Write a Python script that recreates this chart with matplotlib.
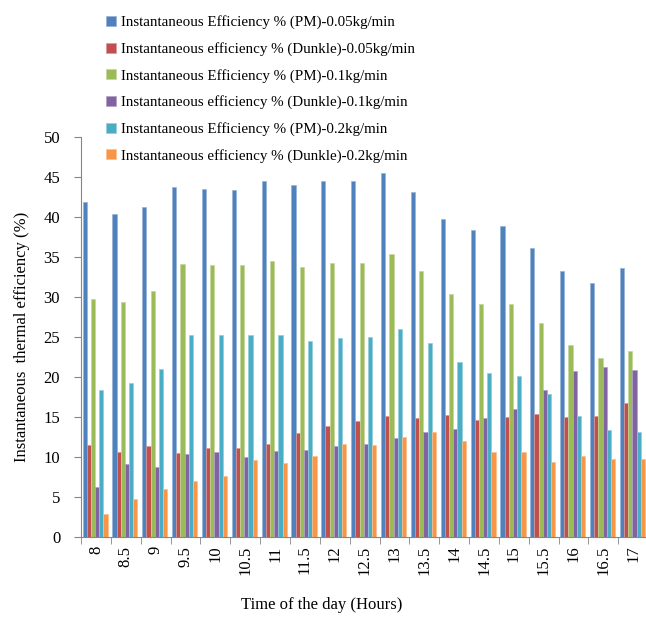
import matplotlib
matplotlib.use("Agg")
import matplotlib.pyplot as plt
import numpy as np

plt.rcParams['font.family'] = ['Liberation Serif', 'DejaVu Serif']

hours = ["8", "8.5", "9", "9.5", "10", "10.5", "11", "11.5", "12", "12.5",
         "13", "13.5", "14", "14.5", "15", "15.5", "16", "16.5", "17"]

pm_005 = [41.8, 40.4, 41.2, 43.7, 43.5, 43.4, 44.5, 44.0, 44.5, 44.5,
          45.5, 43.1, 39.7, 38.3, 38.8, 36.1, 33.3, 31.7, 33.6]
dk_005 = [11.5, 10.6, 11.4, 10.5, 11.1, 11.2, 11.65, 13.0, 13.85, 14.5,
          15.1, 14.9, 15.3, 14.7, 15.0, 15.4, 15.0, 15.2, 16.8]
pm_01 = [29.7, 29.4, 30.7, 34.1, 34.0, 34.0, 34.5, 33.8, 34.3, 34.3,
         35.3, 33.2, 30.4, 29.1, 29.1, 26.7, 24.0, 22.35, 23.25]
dk_01 = [6.3, 9.2, 8.8, 10.4, 10.6, 10.0, 10.8, 10.9, 11.45, 11.7,
         12.35, 13.15, 13.5, 14.9, 16.0, 18.4, 20.75, 21.2, 20.85]
pm_02 = [18.35, 19.2, 21.0, 25.3, 25.3, 25.3, 25.3, 24.5, 24.9, 24.95,
         26.0, 24.2, 21.85, 20.55, 20.1, 17.85, 15.2, 13.4, 13.1]
dk_02 = [2.9, 4.8, 6.0, 7.0, 7.7, 9.65, 9.3, 10.15, 11.6, 11.5,
         12.5, 13.1, 12.0, 10.7, 10.6, 9.45, 10.1, 9.8, 9.75]

series_names = [
    "Instantaneous Efficiency % (PM)-0.05kg/min",
    "Instantaneous efficiency % (Dunkle)-0.05kg/min",
    "Instantaneous Efficiency % (PM)-0.1kg/min",
    "Instantaneous efficiency % (Dunkle)-0.1kg/min",
    "Instantaneous Efficiency % (PM)-0.2kg/min",
    "Instantaneous efficiency % (Dunkle)-0.2kg/min",
]
series = [pm_005, dk_005, pm_01, dk_01, pm_02, dk_02]
colors = ["#4F81BD", "#C0504D", "#9BBB59", "#8064A2", "#4BACC6", "#F79646"]
edges = ["#95B3D7", "#DA9694", "#C4D79B", "#B1A0C7", "#92CDDC", "#FABF8F"]

fig = plt.figure(figsize=(6.46, 6.28), dpi=100)
ax = fig.add_axes([0.1254, 0.1444, 0.878, 0.6379])

x = np.arange(len(hours))
w = 0.14
handles = []
for k, (vals, c, ec, name) in enumerate(zip(series, colors, edges, series_names)):
    b = ax.bar(x + (k - 2.5) * w - 0.03, vals, width=w, color=c, edgecolor=ec,
               linewidth=0.5, label=name)
    handles.append(b)

ax.set_xlim(-0.5, len(hours) - 0.5)
ax.set_ylim(0, 50)
ax.set_yticks(np.arange(0, 51, 5))
ax.set_xticks(x)
ax.set_xticklabels(hours, rotation=90, va='top', ha='center', fontsize=12)
ax.set_xticks(np.arange(-0.5, len(hours), 1), minor=True)
ax.tick_params(axis='x', which='major', length=0, pad=6)
ax.tick_params(axis='x', which='minor', length=5, color='#868686', direction='out')
ax.tick_params(axis='y', length=5, color='#868686', direction='out', labelsize=12, pad=10)

for s in ['top', 'right']:
    ax.spines[s].set_visible(False)
for s in ['left', 'bottom']:
    ax.spines[s].set_color('#868686')
    ax.spines[s].set_linewidth(0.8)

ax.set_ylabel("Instantaneous  thermal efficiency (%)", fontsize=12, labelpad=10)
fig.text(0.498, 0.036, "Time of the day (Hours)", ha='center', va='center', fontsize=12)

leg = fig.legend(handles=handles, labels=series_names, loc='upper left',
                 bbox_to_anchor=(0.155, 0.985), frameon=False, fontsize=10.8,
                 handlelength=0.65, handleheight=0.65, handletextpad=0.35,
                 labelspacing=0.85, borderaxespad=0)

fig.savefig("out.png", dpi=100)
